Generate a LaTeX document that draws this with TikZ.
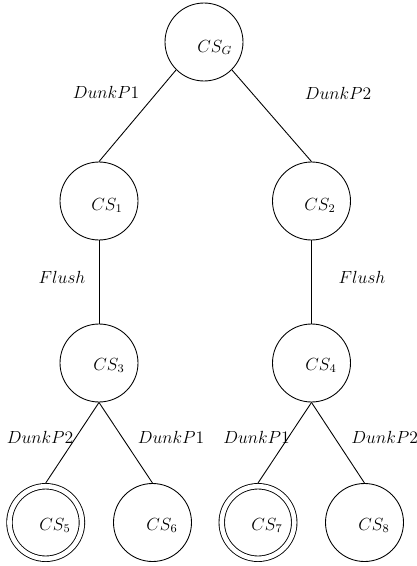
\documentclass[tikz,border=0pt]{standalone}
\begin{document}
\begin{tikzpicture}[x=0.024cm, y=-0.024cm, line width=0.6pt,
  state/.style={circle, draw, minimum size=1.872cm, inner sep=0pt},
  accept/.style={circle, draw, double, double distance=3.15pt, minimum size=1.74cm, inner sep=0pt, outer sep=2.2pt},
  stxt/.style={anchor=base west, inner sep=0pt, font=\large},
  lbl/.style={inner sep=0pt, font=\large}]
\useasboundingbox (0,0) rectangle (417,566);
% states
\node[state]  (G) at (204,42) {};
\node[state]  (s1) at (99,201) {};
\node[state]  (s2) at (311.5,201) {};
\node[state]  (s3) at (99,363) {};
\node[state]  (s4) at (311.5,363) {};
\node[accept] (s5) at (45.7,522.5) {};
\node[state]  (s6) at (152.5,522.5) {};
\node[accept] (s7) at (258,522.5) {};
\node[state]  (s8) at (364.5,522.5) {};
% texts
\node[stxt] (tG) at (197,52) {$CS_G$};
\node[stxt] (t1) at (91,210) {$CS_1$};
\node[stxt] (t2) at (304,210) {$CS_2$};
\node[stxt] (t3) at (93,370) {$CS_3$};
\node[stxt] (t4) at (305,370) {$CS_4$};
\node[stxt] (t5) at (39,530) {$CS_5$};
\node[stxt] (t6) at (146,530) {$CS_6$};
\node[stxt] (t7) at (251,530) {$CS_7$};
\node[stxt] (t8) at (358,530) {$CS_8$};
% connectors
\draw (G.south west) -- (s1.north);
\draw (G.south east) -- (s2.north);
\draw (s1.south) -- (s3.north);
\draw (s2.south) -- (s4.north);
\draw (s3.south) -- (s5.north);
\draw (s3.south) -- (s6.north);
\draw (s4.south) -- (s7.north);
\draw (s4.south) -- (s8.north);
% labels
\node[lbl] (l1) at (106,92) {$DunkP1$};
\node[lbl] (l2) at (338,93) {$DunkP2$};
\node[lbl] (l3) at (62,277) {$Flush$};
\node[lbl] (l4) at (362,277) {$Flush$};
\node[lbl] (l5) at (40,437.5) {$DunkP2$};
\node[lbl] (l6) at (171,437.5) {$DunkP1$};
\node[lbl] (l7) at (256.5,437.5) {$DunkP1$};
\node[lbl] (l8) at (384.7,437.5) {$DunkP2$};
\end{tikzpicture}
\end{document}
